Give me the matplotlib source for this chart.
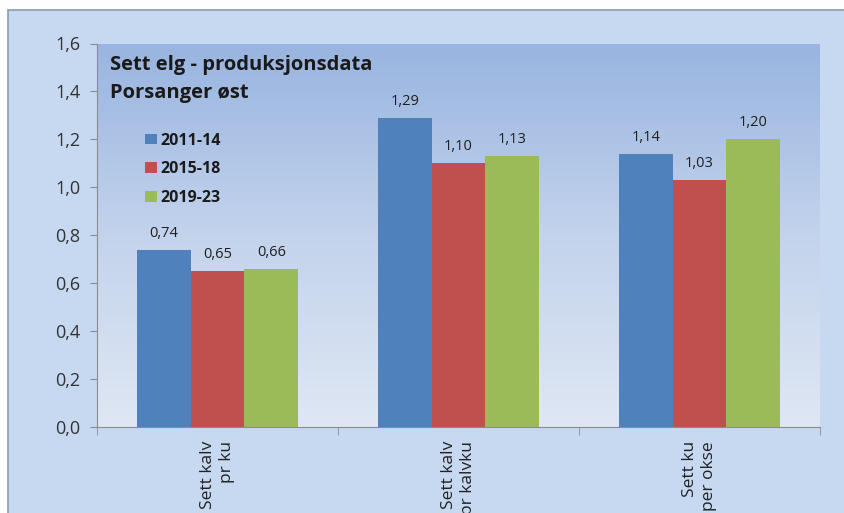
import matplotlib.pyplot as plt
import numpy as np
from matplotlib.patches import Rectangle
from matplotlib.colors import LinearSegmentedColormap

# Data
categories = ['Sett kalv\npr ku', 'Sett kalv\npr kalvku', 'Sett ku\nper okse']
periods = ['2011-14', '2015-18', '2019-23']
v_2011_14 = [0.74, 1.29, 1.14]
v_2015_18 = [0.65, 1.10, 1.03]
v_2019_23 = [0.66, 1.13, 1.20]
series = [v_2011_14, v_2015_18, v_2019_23]
colors = ['#4f81bd', '#c0504d', '#9bbb59']

plt.rcParams['font.family'] = ['Open Sans', 'DejaVu Sans']

W, H = 844, 513
fig = plt.figure(figsize=(W / 100, H / 100), dpi=100, facecolor='white')

# chart background with grey border (top/left visible)
fig.patches.append(Rectangle((8 / W, -0.1), 1.1, (H - 10) / H + 0.1,
                             transform=fig.transFigure, facecolor='#c6d9f1',
                             edgecolor='#8c9cb0', linewidth=1.2, zorder=-5))

ax = fig.add_axes([97 / W, 1 - 427 / H, (820 - 97) / W, (427 - 43.5) / H])
ax.set_zorder(2)
ax.set_facecolor('none')

# gradient plot area
cmap = LinearSegmentedColormap.from_list('bg', ['#dfe7f3', '#c3d3ec', '#98b4e0'])
grad = np.linspace(0, 1, 256).reshape(-1, 1)
ax.imshow(grad, extent=[0, 1, 0, 1], transform=ax.transAxes, cmap=cmap,
          origin='lower', aspect='auto', zorder=0)

x = np.arange(len(categories))
width = 0.223
for i, (vals, col, lab) in enumerate(zip(series, colors, periods)):
    rects = ax.bar(x + (i - 1) * width, vals, width, color=col, label=lab, zorder=2)
    for r, v in zip(rects, vals):
        ax.annotate(f'{v:.2f}'.replace('.', ','),
                    xy=(r.get_x() + r.get_width() / 2, v),
                    xytext=(0, 9.4), textcoords='offset points',
                    ha='center', va='baseline', fontsize=10.5, color='#1f1f1f')

ax.set_xlim(-0.5, 2.5)
ax.set_ylim(0, 1.6)
yt = np.arange(0, 1.61, 0.2)
ax.set_yticks(yt)
ax.set_yticklabels([f'{t:.1f}'.replace('.', ',') for t in yt], fontsize=13, color='#333333')
ax.tick_params(axis='y', length=5, color='#8c8c8c', pad=7)

ax.set_xticks(x)
ax.set_xticklabels(categories, rotation=90, fontsize=12.5, color='#222222',
                   va='top', ha='center', multialignment='right', linespacing=1.25)
ax.set_xticks([-0.5, 0.5, 1.5, 2.5], minor=True)
ax.tick_params(axis='x', which='major', length=0, pad=10)
ax.tick_params(axis='x', which='minor', length=6, color='#8c8c8c')

for s in ['top', 'right']:
    ax.spines[s].set_visible(False)
for s in ['left', 'bottom']:
    ax.spines[s].set_color('#8c8c8c')
    ax.spines[s].set_zorder(3)

ax.text(13 / 723, (427 - 70) / 383.5, 'Sett elg - produksjonsdata', transform=ax.transAxes,
        fontsize=14.5, fontweight='bold', color='#1a1a1a', va='baseline')
ax.text(13 / 723, (427 - 98) / 383.5, 'Porsanger øst', transform=ax.transAxes,
        fontsize=14.5, fontweight='bold', color='#1a1a1a', va='baseline')

leg = ax.legend(loc='upper left', bbox_to_anchor=(0.047, 0.805), frameon=False,
                prop={'weight': 'bold', 'size': 11.5}, handlelength=0.75, handleheight=0.65,
                handletextpad=0.2, labelspacing=0.8)
for t in leg.get_texts():
    t.set_color('#1a1a1a')

fig.savefig('out.png', dpi=100, facecolor='white')
